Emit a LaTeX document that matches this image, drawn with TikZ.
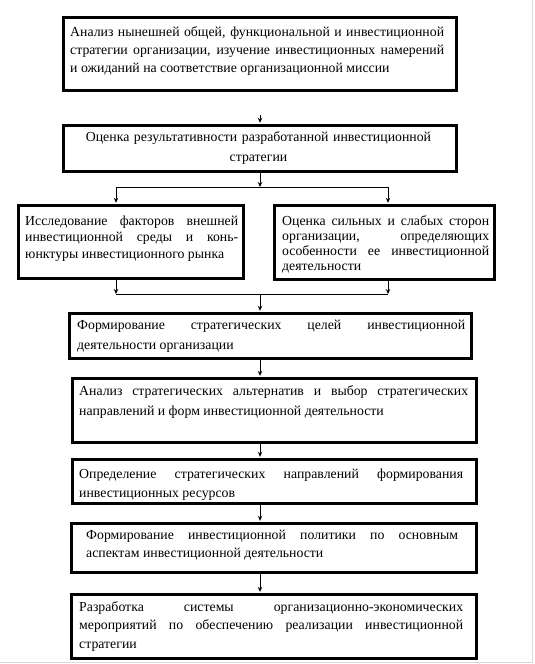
\documentclass[tikz,border=0pt]{standalone}
\usepackage{fontspec}
\setmainfont{Liberation Serif}
\usetikzlibrary{arrows.meta}
\tolerance=10000
\hyphenpenalty=10000
\begin{document}
\begin{tikzpicture}[x=1pt,y=-1pt,
  frame/.style={draw, line width=2.6pt, inner sep=0pt, anchor=north west},
  txt/.style={anchor=base west, inner sep=0pt, align=justify},
  arr/.style={line width=0.9pt, -{Stealth[length=5pt,width=4.5pt]}, shorten >=1.2pt},
  link/.style={line width=0.9pt},
  edge/.style={draw=black!15, line width=1.5pt}]
\useasboundingbox (0,0) rectangle (535,664);
\draw[edge] (532.5,0) -- (532.5,662.5) -- (0,662.5);
% frames
\node[frame, minimum width=393pt, minimum height=73pt] (b1) at (62,16) {};
\node[frame, minimum width=393pt, minimum height=46pt] (b2) at (62,124) {};
\node[frame, minimum width=225pt, minimum height=73pt] (b3) at (17,204) {};
\node[frame, minimum width=220pt, minimum height=74pt] (b4) at (273,204) {};
\node[frame, minimum width=402pt, minimum height=45pt] (b5) at (68,312) {};
\node[frame, minimum width=404pt, minimum height=64pt] (b6) at (71,377) {};
\node[frame, minimum width=404pt, minimum height=44pt] (b7) at (71,458) {};
\node[frame, minimum width=405pt, minimum height=49pt] (b8) at (70,522) {};
\node[frame, minimum width=405pt, minimum height=64pt] (b9) at (70,593) {};
% texts
\node[txt, text width=374pt, font=\fontsize{13.8}{18}\selectfont] (t1) at (70,36)
 {Анализ нынешней общей, функциональной и инвестиционной\linebreak стратегии организации, изучение инвестиционных намерений\linebreak и ожиданий на соответствие организационной миссии};
\node[anchor=base, inner sep=0pt, text width=393pt, align=center, font=\fontsize{13.8}{20}\selectfont] (t2) at (258.5,141)
 {Оценка результативности разработанной инвестиционной\\стратегии};
\node[txt, text width=213pt, font=\fontsize{13.8}{16.5}\selectfont] (t3) at (25,225)
 {Исследование факторов внешней\linebreak инвестиционной среды и конь-\linebreak{}юнктуры инвестиционного рынка};
\node[txt, text width=207pt, font=\fontsize{13.8}{15}\selectfont] (t4) at (282,225)
 {Оценка сильных и слабых сторон\linebreak организации, определяющих\linebreak особенности ее инвестиционной\linebreak деятельности};
\node[txt, text width=388pt, font=\fontsize{13.8}{20}\selectfont] (t5) at (77,329)
 {Формирование стратегических целей инвестиционной\linebreak деятельности организации};
\node[txt, text width=389pt, font=\fontsize{13.8}{20}\selectfont] (t6) at (79,395)
 {Анализ стратегических альтернатив и выбор стратегических\linebreak направлений и форм инвестиционной деятельности};
\node[txt, text width=384pt, font=\fontsize{13.8}{19}\selectfont] (t7) at (79,478)
 {Определение стратегических направлений формирования\linebreak инвестиционных ресурсов};
\node[txt, text width=372pt, font=\fontsize{13.8}{18}\selectfont] (t8) at (86,539)
 {Формирование инвестиционной политики по основным\linebreak аспектам инвестиционной деятельности};
\node[txt, text width=384pt, font=\fontsize{13.8}{18.5}\selectfont] (t9) at (79,611)
 {Разработка системы организационно-экономических\linebreak мероприятий по обеспечению реализации инвестиционной\linebreak стратегии};
% connector points
\coordinate (a0) at (260,115);
\coordinate (m) at (260,187);
\coordinate (s1) at (116,187);
\coordinate (s2) at (388,187);
\coordinate (j1) at (116,294);
\coordinate (j2) at (388,294);
\coordinate (n) at (260,294);
% connectors
\draw[arr] (a0) -- (a0 |- b2.north);
\draw[arr, shorten >=0pt] (b2.south -| m) -- (m);
\draw[link] (s1) -- (s2);
\draw[arr] (s1) -- (s1 |- b3.north);
\draw[arr] (s2) -- (s2 |- b4.north);
\draw[arr, shorten >=0pt] (b3.south -| j1) -- (j1);
\draw[arr, shorten >=0pt] (b4.south -| j2) -- (j2);
\draw[link] (j1) -- (j2);
\draw[arr] (n) -- (n |- b5.north);
\draw[arr] (b5.south -| n) -- (n |- b6.north);
\draw[arr] (b6.south -| n) -- (n |- b7.north);
\draw[arr] (b7.south -| n) -- (n |- b8.north);
\draw[arr] (b8.south -| n) -- (n |- b9.north);
\end{tikzpicture}
\end{document}
